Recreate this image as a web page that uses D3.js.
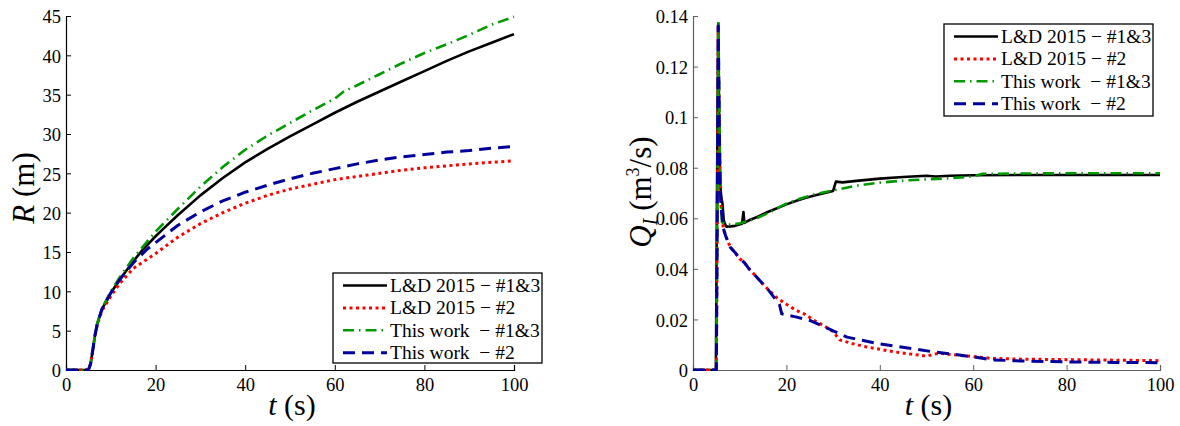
<!DOCTYPE html>
<html><head><meta charset="utf-8">
<script src="https://cdn.jsdelivr.net/npm/d3@7"></script>
<style>
body{margin:0;background:#fff;}
svg text{font-family:"Liberation Serif","Times New Roman",serif;fill:#000;}
</style></head>
<body><svg id="c" width="1180" height="426"></svg>
<script>
// ---------- data ----------
const rTicksX = [0,20,40,60,80,100];
const rTicksY = [0,5,10,15,20,25,30,35,40,45];
const qTicksY = [0,0.02,0.04,0.06,0.08,0.1,0.12,0.14];
const legendLabels = ["L&D 2015 \u2212 #1&3","L&D 2015 \u2212 #2","This work  \u2212 #1&3","This work  \u2212 #2"];

// R(t) series [t, R]
const R_LD13 = [[0,0],[5,0],[5.5,0.8],[6,2.6],[6.5,4.5],[7,5.9],[8,7.7],[10,9.8],[12,11.5],[15,13.8],[17,15.2],[20,17],[22,18.1],[25,19.7],[30,22.2],[35,24.4],[40,26.4],[45,28.1],[50,29.7],[55,31.2],[60,32.7],[65,34.1],[70,35.4],[75,36.7],[80,38],[85,39.3],[90,40.5],[95,41.6],[100,42.7]];
const R_LD2 = [[0,0],[5,0],[5.5,0.8],[6,2.6],[6.5,4.5],[7,5.8],[8,7.5],[10,9.4],[12,11],[15,12.9],[20,14.8],[25,16.9],[30,18.6],[35,20],[40,21.2],[45,22.2],[50,23],[55,23.6],[60,24.2],[65,24.6],[70,25],[75,25.4],[80,25.7],[85,25.95],[90,26.2],[95,26.4],[100,26.6]];
const R_TW13 = [[0,0],[5,0],[5.5,0.8],[6,2.6],[6.5,4.5],[7,6],[8,7.8],[10,10],[12,11.8],[15,14.2],[20,17.6],[25,20.5],[30,23.3],[35,25.8],[40,28],[45,29.8],[50,31.4],[55,33],[60,34.5],[62,35.4],[65,36.2],[70,37.6],[75,39],[80,40.3],[85,41.4],[90,42.6],[95,43.9],[100,44.9]];
const R_TW2 = [[0,0],[5,0],[5.5,0.8],[6,2.6],[6.5,4.5],[7,5.9],[8,7.7],[10,9.8],[12,11.5],[15,13.6],[18,15.3],[20,16.2],[25,18.4],[30,20.1],[35,21.5],[40,22.6],[45,23.5],[50,24.3],[55,25],[60,25.6],[65,26.2],[70,26.7],[75,27.1],[80,27.4],[85,27.7],[90,27.9],[95,28.2],[100,28.4]];

// Q_I(t) series [t, Q]
const Q_LD13 = [[0,0],[4.9,0],[5.1,0.06],[5.4,0.137],[5.6,0.1],[5.8,0.075],[6.0,0.069],[6.3,0.066],[6.6,0.059],[7.1,0.0567],[8,0.0568],[9,0.057],[10.5,0.0578],[10.8,0.0625],[11,0.0582],[12,0.0592],[14,0.0607],[16,0.0625],[18,0.064],[20,0.0655],[22,0.0668],[24,0.068],[26,0.069],[28,0.0699],[30,0.0708],[30.6,0.0745],[32,0.0742],[35,0.0748],[40,0.0757],[45,0.0763],[50,0.0768],[52,0.0765],[55,0.0768],[60,0.077],[70,0.0771],[80,0.0771],[90,0.0771],[100,0.0771]];
const Q_LD2 = [[0,0],[5,0],[5.2,0.06],[5.4,0.136],[5.6,0.1],[5.8,0.075],[6,0.065],[6.5,0.056],[7,0.053],[8,0.0485],[9,0.0465],[10,0.044],[11,0.0425],[12,0.04],[14,0.036],[16,0.032],[18,0.0285],[20,0.026],[22,0.0237],[24,0.022],[26,0.0195],[28,0.0175],[30,0.0152],[31.4,0.0119],[34,0.0105],[37,0.0092],[40,0.0082],[43,0.0072],[47,0.0062],[50,0.0055],[52.5,0.0066],[56,0.006],[60,0.0053],[64,0.0046],[70,0.0043],[80,0.0041],[90,0.0039],[100,0.0037]];
const Q_TW13 = [[0,0],[5,0],[5.2,0.06],[5.45,0.1375],[5.65,0.1],[5.85,0.07],[6.2,0.0585],[7,0.0575],[8,0.0575],[10,0.058],[12,0.059],[14,0.0603],[16,0.062],[18,0.064],[20,0.0658],[23,0.0678],[26,0.0695],[30,0.071],[35,0.0729],[40,0.0741],[45,0.0749],[50,0.0754],[55,0.0758],[60,0.0766],[62,0.0776],[65,0.0776],[70,0.0777],[80,0.0778],[90,0.0778],[100,0.0778]];
const Q_TW2 = [[0,0],[5,0],[5.2,0.06],[5.4,0.136],[5.6,0.1],[5.8,0.075],[6,0.065],[6.5,0.056],[7,0.053],[8,0.0485],[9,0.0465],[10,0.044],[11,0.0425],[12,0.04],[14,0.036],[16,0.032],[18.5,0.026],[19,0.0222],[22,0.021],[25,0.0196],[28,0.0172],[30,0.0155],[33,0.013],[36,0.0118],[40,0.0103],[44,0.0092],[48,0.0082],[51,0.0073],[55,0.0064],[60,0.0052],[64,0.004],[70,0.0036],[80,0.0032],[90,0.003],[100,0.0029]];

// ---------- styles ----------
const styles = [
  {color:"#000000", width:2.6, dash:null},
  {color:"#ff0000", width:3, dash:"3,3.5"},
  {color:"#009900", width:2.6, dash:"11,5,1.5,5"},
  {color:"#00009c", width:3, dash:"12,7"}
];

const svg = d3.select("#c");

function panel(opt){
  const x = d3.scaleLinear().domain([0,100]).range([opt.x0, opt.x1]);
  const y = d3.scaleLinear().domain(opt.ydom).range([370, 16]);
  const g = svg.append("g");
  const clipId = "clip"+opt.id;
  svg.append("clipPath").attr("id",clipId).append("rect")
    .attr("x",opt.x0).attr("y",14).attr("width",opt.x1-opt.x0+2).attr("height",357);

  // axes
  const ax = d3.axisBottom(x).tickValues(rTicksX).tickSize(-5).tickPadding(8).tickFormat(d3.format("d"));
  const ay = d3.axisLeft(y).tickValues(opt.yticks).tickSize(-5).tickPadding(5).tickFormat(opt.yfmt);
  const gx = g.append("g").attr("transform","translate(0,370)").call(ax);
  const gy = g.append("g").attr("transform",`translate(${opt.x0},0)`).call(ay);
  [gx,gy].forEach(a=>{
    a.select(".domain").attr("stroke",opt.axisColor).attr("stroke-width",1.2);
    a.selectAll(".tick line").attr("stroke",opt.axisColor).attr("stroke-width",1);
    a.selectAll(".tick text").style("font-family","Liberation Serif").style("font-size","18.5px").attr("fill","#000");
  });
  gy.selectAll(".tick text").attr("dy","0.36em");

  // lines
  const line = d3.line().x(d=>x(d[0])).y(d=>y(d[1]));
  const lg = g.append("g").attr("clip-path",`url(#${clipId})`);
  opt.series.forEach((s,i)=>{
    const st = styles[i];
    lg.append("path").datum(s).attr("d",line).attr("fill","none")
      .attr("stroke",st.color).attr("stroke-width",st.width)
      .attr("stroke-dasharray",st.dash).attr("stroke-linejoin","round");
  });

  // x label
  const xl = g.append("text").attr("x",(opt.x0+opt.x1)/2 + 2).attr("y",415)
    .attr("text-anchor","middle").style("font-size","30px");
  xl.append("tspan").style("font-style","italic").text("t");
  xl.append("tspan").text(" (s)");

  // legend
  const L = opt.legend;
  g.append("rect").attr("x",L.x).attr("y",L.y).attr("width",L.w).attr("height",L.h)
    .attr("fill","#fff").attr("stroke","#000").attr("stroke-width",1.3);
  legendLabels.forEach((lab,i)=>{
    const st = styles[i];
    const cy = L.y + 12.5 + i*22.4;
    g.append("line").attr("x1",L.x+10).attr("x2",L.x+54).attr("y1",cy).attr("y2",cy)
      .attr("stroke",st.color).attr("stroke-width",st.width).attr("stroke-dasharray",st.dash);
    g.append("text").attr("x",L.x+57).attr("y",cy+6.5).attr("xml:space","preserve")
      .style("font-size","19.5px").style("white-space","pre").text(lab);
  });
  return g;
}

panel({id:"L", x0:66, x1:514, ydom:[0,45], yticks:rTicksY, yfmt:d3.format("d"),
  axisColor:"#000", series:[R_LD13,R_LD2,R_TW13,R_TW2],
  legend:{x:333,y:273,w:209,h:90}});

panel({id:"R", x0:693, x1:1160, ydom:[0,0.14], yticks:qTicksY, yfmt:d=> d===0?"0":String(+d.toFixed(2)),
  axisColor:"#606060", series:[Q_LD13,Q_LD2,Q_TW13,Q_TW2],
  legend:{x:944,y:24,w:209,h:92}});

// y labels
const yl1 = svg.append("text").attr("transform","translate(34,188) rotate(-90)")
  .attr("text-anchor","middle").style("font-size","31px");
yl1.append("tspan").style("font-style","italic").text("R");
yl1.append("tspan").text(" (m)");

const yl2 = svg.append("text").attr("transform","translate(651,192) rotate(-90)")
  .attr("text-anchor","middle").style("font-size","31px");
yl2.append("tspan").style("font-style","italic").text("Q");
yl2.append("tspan").style("font-style","italic").style("font-size","20px").attr("dy","6").text("I");
yl2.append("tspan").attr("dy","-6").text(" (m");
yl2.append("tspan").style("font-size","18px").attr("dy","-12").text("3");
yl2.append("tspan").attr("dy","12").text("/s)");
</script></body></html>
